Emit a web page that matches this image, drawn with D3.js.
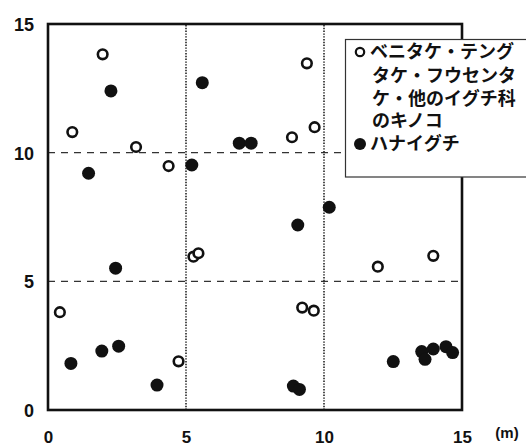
<!DOCTYPE html>
<html><head><meta charset="utf-8">
<script src="https://cdn.jsdelivr.net/npm/d3@7"></script>
<style>html,body{margin:0;padding:0;background:#fff;}svg{display:block;}</style>
</head><body>
<svg id="c" width="526" height="446"></svg>
<script>
const openX = [1.98, 0.88, 3.19, 9.38, 9.66, 8.84, 4.37, 5.27, 5.45, 11.95, 13.96, 0.43, 4.73, 9.21, 9.63];
const openY = [13.82, 10.80, 10.22, 13.47, 10.99, 10.60, 9.48, 5.96, 6.09, 5.57, 5.99, 3.80, 1.89, 3.98, 3.86];
const filledX = [2.28, 5.59, 6.93, 7.36, 1.47, 5.21, 2.45, 9.05, 10.19, 0.83, 1.95, 2.56, 3.95, 8.89, 9.11, 12.51, 13.54, 13.66, 13.96, 14.42, 14.66];
const filledY = [12.40, 12.72, 10.37, 10.37, 9.20, 9.52, 5.51, 7.19, 7.88, 1.81, 2.29, 2.48, 0.97, 0.93, 0.80, 1.88, 2.27, 1.97, 2.37, 2.46, 2.23];
const xTicks = [0, 5, 10, 15];
const yTicks = [0, 5, 10, 15];
const gridVals = [5, 10];
const xUnit = "(m)";
const legendOpen = ["ベニタケ・テング", "タケ・フウセンタ", "ケ・他のイグチ科", "のキノコ"];
const legendFilled = "ハナイグチ";

const svg = d3.select("#c");
const x = d3.scaleLinear().domain([0, 15]).range([48, 462]);
const y = d3.scaleLinear().domain([0, 15]).range([410, 24]);
const ink = "#111";

// gridlines
svg.selectAll("line.hg").data(gridVals).join("line")
  .attr("x1", x(0)).attr("x2", x(15)).attr("y1", d => y(d)).attr("y2", d => y(d))
  .attr("stroke", "#333").attr("stroke-width", 1.3).attr("stroke-dasharray", "7,6");
svg.selectAll("line.vg").data(gridVals).join("line")
  .attr("y1", y(0)).attr("y2", y(15)).attr("x1", d => x(d)).attr("x2", d => x(d))
  .attr("stroke", "#222").attr("stroke-width", 1.6).attr("stroke-dasharray", "1.4,1.4");

// points
const openPts = openX.map((v, i) => [v, openY[i]]);
const filledPts = filledX.map((v, i) => [v, filledY[i]]);
svg.selectAll("circle.f").data(filledPts).join("circle")
  .attr("cx", d => x(d[0])).attr("cy", d => y(d[1])).attr("r", 6.5).attr("fill", ink);
svg.selectAll("circle.o").data(openPts).join("circle")
  .attr("cx", d => x(d[0])).attr("cy", d => y(d[1])).attr("r", 4.8)
  .attr("fill", "#fff").attr("stroke", ink).attr("stroke-width", 2.6);

// frame
svg.append("rect").attr("x", x(0)).attr("y", y(15)).attr("width", x(15) - x(0)).attr("height", y(0) - y(15))
  .attr("fill", "none").attr("stroke", ink).attr("stroke-width", 2.6);

// axes labels
const xAxis = d3.axisBottom(x).tickValues(xTicks).tickSize(0).tickPadding(0);
const gx = svg.append("g").attr("transform", `translate(0,${y(0)})`).call(xAxis);
gx.select(".domain").remove();
gx.selectAll("text").attr("dy", null).attr("y", 33)
  .style("font-family", "'Liberation Sans', Arial, sans-serif").style("font-size", "17px").style("font-weight", "bold").attr("fill", ink);
const yAxis = d3.axisLeft(y).tickValues(yTicks).tickSize(0).tickPadding(0);
const gy = svg.append("g").attr("transform", `translate(34,0)`).call(yAxis);
gy.select(".domain").remove();
gy.selectAll("text").attr("x", 0).attr("dy", "0.36em")
  .style("font-family", "'Liberation Sans', Arial, sans-serif").style("font-size", "18px").style("font-weight", "bold").attr("fill", ink);

svg.append("text").attr("x", 507).attr("y", 438).attr("text-anchor", "middle")
  .style("font-family", "'Liberation Sans', Arial, sans-serif").style("font-size", "15px").style("font-weight", "bold")
  .attr("fill", ink).text(xUnit);

// legend
const lg = svg.append("g");
lg.append("rect").attr("x", 345.5).attr("y", 39.5).attr("width", 200).attr("height", 137.5)
  .attr("fill", "#fff").attr("stroke", "#333").attr("stroke-width", 1.2);
const lineY = [52, 76, 99, 121, 144];
lg.append("circle").attr("cx", 360).attr("cy", lineY[0]).attr("r", 4.2)
  .attr("fill", "#fff").attr("stroke", ink).attr("stroke-width", 2.2);
lg.append("circle").attr("cx", 360).attr("cy", lineY[4]).attr("r", 6).attr("fill", ink);
const allLines = legendOpen.concat([legendFilled]);
lg.selectAll("text.l").data(allLines).join("text")
  .attr("x", (d, i) => i === 0 || i === 4 ? 370 : 372)
  .attr("y", (d, i) => lineY[i]).attr("dy", "0.36em")
  .style("font-family", "'Noto Sans CJK JP', sans-serif").style("font-size", "18px").style("font-weight", "bold")
  .attr("fill", ink).text(d => d);
</script>
</body></html>
